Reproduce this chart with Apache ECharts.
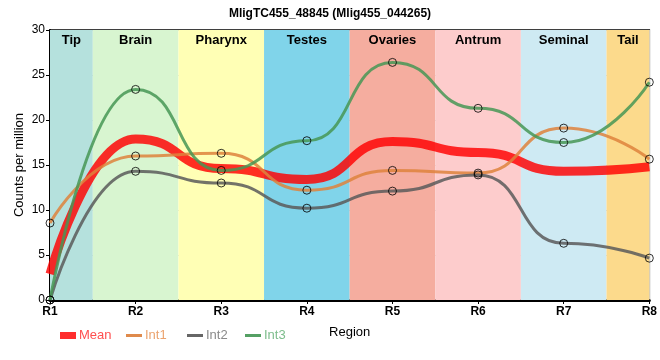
<!DOCTYPE html>
<html><head><meta charset="utf-8">
<script src="https://cdn.jsdelivr.net/npm/echarts@6/dist/echarts.min.js"></script>
<style>html,body{margin:0;padding:0;background:#fff}#c{width:660px;height:360px}</style>
</head><body><div id="c"></div>
<script>
var categories = ['R1','R2','R3','R4','R5','R6','R7','R8'];
var meanVals = [2.9, 17.9, 14.6, 13.4, 17.6, 16.4, 14.3, 14.8];
var int1Vals = [8.55, 16.0, 16.3, 12.2, 14.4, 14.1, 19.1, 15.65];
var int2Vals = [0, 14.3, 13.0, 10.2, 12.1, 13.9, 6.3, 4.65];
var int3Vals = [0, 23.4, 14.4, 17.7, 26.4, 21.3, 17.5, 24.2];
var regionNames = ['Tip','Brain','Pharynx','Testes','Ovaries','Antrum','Seminal','Tail'];
var regionColors = ['#b5e1dd','#d8f5d0','#ffffb5','#80d4ea','#f5ad9f','#fdcccc','#ceeaf3','#fcda8c'];
var yTicks = [0,5,10,15,20,25,30];

function pts(arr){ return arr.map(function(v,i){ return [i, v]; }); }

var bands = regionNames.map(function(n,i){
  return [{name:n, xAxis: Math.max(0, i-0.5), itemStyle:{color:regionColors[i]}}, {xAxis: Math.min(categories.length-1, i+0.5)}];
});

var font = 'Liberation Sans, Arial, sans-serif';
var chart = echarts.init(document.getElementById('c'));
function lg(name, left, h, textColor){
  return {data:[{name:name, icon:'rect'}], left:left, top:324, itemWidth:16, itemHeight:h, itemGap:4,
    textStyle:{color:textColor, fontSize:13, fontFamily:font, padding:[0,0,0,-2]}, selectedMode:false};
}
chart.setOption({
  animation:false,
  textStyle:{fontFamily:font},
  title:{text:'MligTC455_48845 (Mlig455_044265)', left:'center', top:3,
    textStyle:{fontSize:12, fontWeight:'bold', color:'#000', fontFamily:font}},
  legend:[lg('Mean',55,7,'#ff4f4f'), lg('Int1',121,3,'#eba36e'), lg('Int2',182,3,'#8a8a8a'), lg('Int3',240,3,'#7dbd8c')],
  grid:{left:50, right:10, top:30, bottom:60, show:true, borderColor:'#000', borderWidth:1.5, backgroundColor:'transparent'},
  xAxis:{type:'value', min:0, max:categories.length-1, interval:1,
    name:'Region', nameLocation:'middle', nameGap:26, nameMoveOverlap:false, nameTextStyle:{fontSize:13, color:'#000', fontFamily:font},
    axisLine:{lineStyle:{color:'#000', width:3}},
    axisTick:{show:true, length:4, lineStyle:{color:'#000', width:1}},
    axisLabel:{formatter:function(v){ return categories[v] || ''; }, fontSize:12, fontWeight:'bold', color:'#000', margin:6, fontFamily:font},
    splitLine:{show:true, lineStyle:{color:'#c8c8c8', width:1}}},
  yAxis:{type:'value', min:yTicks[0], max:yTicks[yTicks.length-1], interval:5,
    name:'Counts per million', nameLocation:'middle', nameGap:24, nameMoveOverlap:false, nameTextStyle:{fontSize:13, color:'#000', fontFamily:font},
    axisLine:{show:true, lineStyle:{color:'#000', width:2}},
    axisTick:{show:true, length:4, lineStyle:{color:'#000'}},
    axisLabel:{fontSize:12, color:'#000', margin:5, fontFamily:font},
    splitLine:{show:true, lineStyle:{color:'#c8c8c8', width:1}}},
  series:[
    {name:'_bands', type:'line', data:[], z:-1, silent:true,
      markArea:{silent:true, label:{show:true, position:'insideTop', distance:4, fontSize:13, fontWeight:'bold', color:'#000', fontFamily:font}, data:bands}},
    {name:'Mean', type:'line', data:pts(meanVals), smooth:0.55, smoothMonotone:'x', showSymbol:false, z:3,
      lineStyle:{width:9, color:'rgba(255,0,0,0.82)'}, itemStyle:{color:'rgba(255,0,0,0.82)'}},
    {name:'Int1', type:'line', data:pts(int1Vals), smooth:0.55, smoothMonotone:'x', showSymbol:false, z:4,
      lineStyle:{width:3, color:'rgba(222,130,60,0.85)'}, itemStyle:{color:'#df8a4c'}},
    {name:'Int2', type:'line', data:pts(int2Vals), smooth:0.55, smoothMonotone:'x', showSymbol:false, z:4,
      lineStyle:{width:3, color:'rgba(90,90,90,0.85)'}, itemStyle:{color:'#666'}},
    {name:'Int3', type:'line', data:pts(int3Vals), smooth:0.55, smoothMonotone:'x', showSymbol:false, z:4,
      lineStyle:{width:3, color:'rgba(70,150,85,0.85)'}, itemStyle:{color:'#55a064'}},
    {name:'_p1', type:'scatter', data:pts(int1Vals), symbolSize:8, z:6, itemStyle:{color:'rgba(0,0,0,0)', borderColor:'#000', borderWidth:1}},
    {name:'_p2', type:'scatter', data:pts(int2Vals), symbolSize:8, z:6, itemStyle:{color:'rgba(0,0,0,0)', borderColor:'#000', borderWidth:1}},
    {name:'_p3', type:'scatter', data:pts(int3Vals), symbolSize:8, z:6, itemStyle:{color:'rgba(0,0,0,0)', borderColor:'#000', borderWidth:1}}
  ]
});
</script></body></html>
